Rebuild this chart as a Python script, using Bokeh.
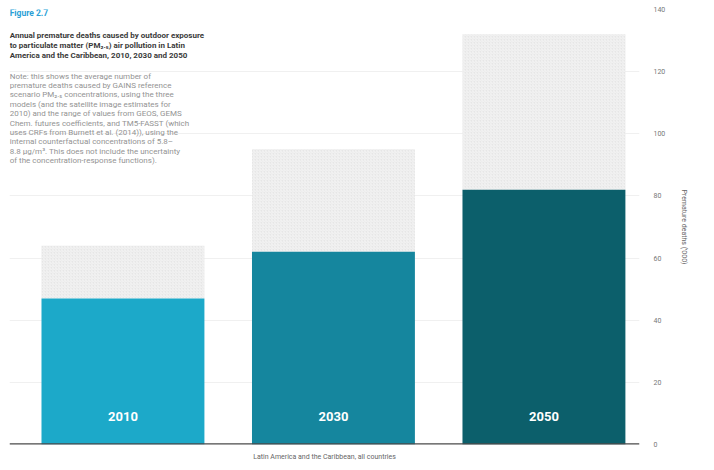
from bokeh.plotting import figure
from bokeh.models import Range1d, FixedTicker, Span, Label, Title, ColumnDataSource
from bokeh.core.properties import value
from bokeh.embed import file_html
from bokeh.resources import INLINE

years = ["2010", "2030", "2050"]
base_deaths = [47, 62, 82]
upper_deaths = [64, 95, 132]
bar_colors = ["#1ca9c9", "#15869e", "#0c5f6b"]
y_ticks = [0, 20, 40, 60, 80, 100, 120, 140]

fig_label = "Figure 2.7"
title_lines = [
    "Annual premature deaths caused by outdoor exposure",
    "to particulate matter (PM\u2082.\u2085) air pollution in Latin",
    "America and the Caribbean, 2010, 2030 and 2050",
]
note_lines = [
    "Note: this shows the average number of",
    "premature deaths caused by GAINS reference",
    "scenario PM\u2082.\u2085 concentrations, using the three",
    "models (and the satellite image estimates for",
    "2010) and the range of values from GEOS, GEMS",
    "Chem. futures coefficients, and TM5-FASST (which",
    "uses CRFs from Burnett et al. (2014)), using the",
    "internal counterfactual concentrations of 5.8\u2013",
    "8.8 \u00b5g/m\u00b3. This does not include the uncertainty",
    "of the concentration-response functions).",
]
x_title = "Latin America and the Caribbean, all countries"
y_title = "Premature deaths ('000)"

xs = list(range(len(years)))
src = ColumnDataSource(dict(x=xs, year=years, base=base_deaths, upper=upper_deaths,
                            color=bar_colors, ly=[9] * len(years)))

p = figure(width=705, height=466, output_backend="svg", toolbar_location=None,
           x_range=Range1d(-0.539, 2.454), y_range=Range1d(0, 140),
           min_border_left=9, min_border_right=66, min_border_top=9, min_border_bottom=0,
           y_axis_location="right")
p.outline_line_color = None
p.xaxis.visible = False
p.xgrid.grid_line_color = None
p.ygrid.grid_line_color = "#f0f0f0"
p.ygrid.ticker = FixedTicker(ticks=y_ticks)

ax = p.yaxis[0]
ax.ticker = FixedTicker(ticks=y_ticks)
ax.axis_line_color = None
ax.major_tick_line_color = None
ax.minor_tick_line_color = None
ax.major_label_standoff = 8
ax.major_label_text_font = "Roboto"
ax.major_label_text_font_size = "7px"
ax.major_label_text_color = "#777777"
ax.axis_label = y_title
ax.axis_label_text_font = "Roboto"
ax.axis_label_text_font_size = "7px"
ax.axis_label_text_font_style = "normal"
ax.axis_label_text_color = "#666666"
ax.axis_label_standoff = 12

p.vbar(x="x", width=0.774, bottom="base", top="upper", source=src,
       fill_color="#e6e6e6", line_color=None,
       hatch_pattern="/", hatch_color="white", hatch_alpha=0.7,
       hatch_scale=3, hatch_weight=0.8)
p.vbar(x="x", width=0.774, bottom=0, top="base", source=src,
       fill_color="color", line_color=None)
p.add_layout(Span(location=0, dimension="width", line_color="#4a4a4a", line_width=2.5))

p.text(x="x", y="ly", text="year", source=src, text_color="white",
       text_font=value("Roboto"), text_font_size="13px", text_font_style="bold",
       text_align="center", text_baseline="middle")

px_per_unit = 433 / 140.0
def yv(page_y):
    return (443 - page_y) / px_per_unit

x0 = -0.539 + 0.2 / 210.5

p.add_layout(Label(x=x0, y=yv(9), text=fig_label, text_font="Roboto",
                   text_font_size="8.5px", text_font_style="bold",
                   text_color="#2a9fd6", text_baseline="top"))
for i, t in enumerate(title_lines):
    p.add_layout(Label(x=x0, y=yv(31 + i * 10), text=t, text_font="Roboto",
                       text_font_size="8px", text_font_style="bold",
                       text_color="#3a3a3a", text_baseline="top"))
for i, t in enumerate(note_lines):
    p.add_layout(Label(x=x0, y=yv(72 + i * 9.3), text=t, text_font="Roboto",
                       text_font_size="8px", text_color="#939393",
                       text_baseline="top"))

p.add_layout(Title(text=x_title, align="center", text_font="Roboto",
                   text_font_size="7px", text_font_style="normal",
                   text_color="#666666", standoff=12), "below")

open("out.html", "w").write(file_html(p, INLINE))
